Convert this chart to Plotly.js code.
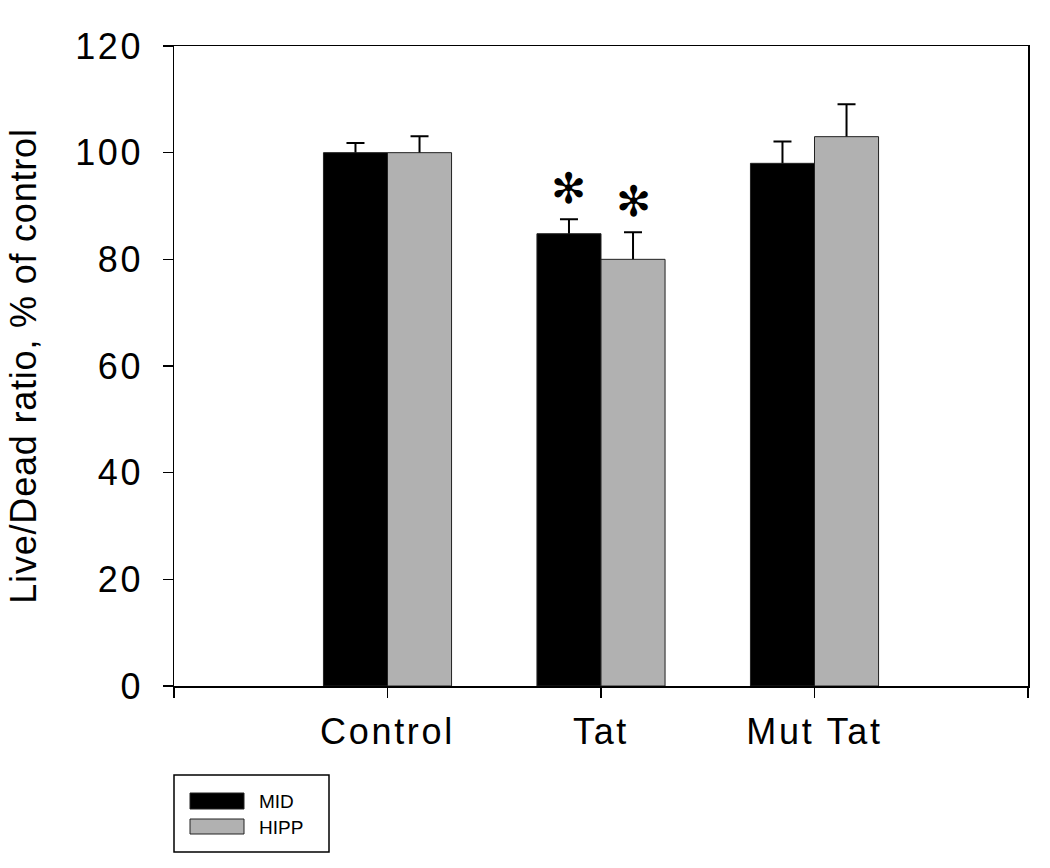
<!DOCTYPE html>
<html><head><meta charset="utf-8">
<script src="https://cdn.plot.ly/plotly-3.0.1.min.js"></script>
<style>
html,body{margin:0;padding:0;background:#fff}
.xtick text, .ytick text {letter-spacing: 2.7px;}
.ytitle {letter-spacing: 0.8px;}
</style>
</head><body>
<div id="chart" style="width:1050px;height:868px"></div>
<script>
const categories = ['Control', 'Tat', 'Mut Tat'];
const midValues = [100, 84.8, 98];
const midErr = [1.8, 2.7, 4.1];
const hippValues = [100, 80, 103];
const hippErr = [3.1, 5.1, 6.1];
const seriesNames = ['MID', 'HIPP'];
const seriesColors = ['#000000', '#b1b1b1'];
const starFlags = [false, true, false];

const xIdx = categories.map((c, i) => i);
const font = 'Liberation Sans, Arial, sans-serif';
const barW = 0.3;

function errCarrier(vals, errs, off) {
  return {type: 'bar', x: xIdx, y: vals, width: barW, offset: off, showlegend: false,
    marker: {color: 'rgba(0,0,0,0)', line: {width: 0}},
    error_y: {type: 'data', array: errs, symmetric: true, color: '#000', thickness: 2, width: 9}};
}
function barTrace(name, vals, color, off) {
  return {type: 'bar', name: name, x: xIdx, y: vals, width: barW, offset: off,
    marker: {color: color, line: {color: '#222', width: 1}}};
}
const traces = [
  errCarrier(midValues, midErr, -barW),
  barTrace(seriesNames[0], midValues, seriesColors[0], -barW),
  errCarrier(hippValues, hippErr, 0),
  barTrace(seriesNames[1], hippValues, seriesColors[1], 0)
];

const annotations = [];
starFlags.forEach((f, i) => {
  if (!f) return;
  annotations.push({x: i - barW / 2, y: midValues[i] + midErr[i], xref: 'x', yref: 'y', text: '✻',
    showarrow: false, yanchor: 'bottom', yshift: 4, font: {family: 'DejaVu Sans', size: 42, color: '#000'}});
  annotations.push({x: i + barW / 2, y: hippValues[i] + hippErr[i], xref: 'x', yref: 'y', text: '✻',
    showarrow: false, yanchor: 'bottom', yshift: 4, font: {family: 'DejaVu Sans', size: 42, color: '#000'}});
});
const px = v => (v - 174) / 854;
const py = v => (686 - v) / 640;
// custom legend
annotations.push({xref: 'paper', yref: 'paper', x: px(257), y: py(801),
  xanchor: 'left', yanchor: 'middle', text: seriesNames[0], showarrow: false,
  font: {family: font, size: 19, color: '#000'}});
annotations.push({xref: 'paper', yref: 'paper', x: px(257), y: py(827),
  xanchor: 'left', yanchor: 'middle', text: seriesNames[1], showarrow: false,
  font: {family: font, size: 19, color: '#000'}});

const shapes = [
  {type: 'rect', xref: 'paper', yref: 'paper', x0: px(174), x1: px(329), y0: py(775), y1: py(852),
   line: {color: '#000', width: 1.5}, fillcolor: '#fff'},
  {type: 'rect', xref: 'paper', yref: 'paper', x0: px(190), x1: px(244), y0: py(793), y1: py(809),
   line: {color: '#222', width: 1}, fillcolor: seriesColors[0]},
  {type: 'rect', xref: 'paper', yref: 'paper', x0: px(190), x1: px(244), y0: py(819), y1: py(834),
   line: {color: '#222', width: 1}, fillcolor: seriesColors[1]}
];

const layout = {
  width: 1050, height: 868,
  margin: {l: 174, r: 22, t: 46, b: 182},
  paper_bgcolor: '#fff', plot_bgcolor: '#fff',
  showlegend: false,
  barmode: 'overlay',
  font: {family: font, color: '#000'},
  xaxis: {range: [-1, 3], tickmode: 'array', tickvals: [-1, 0, 1, 2, 3],
          ticktext: [''].concat(categories, ['']),
          ticks: 'outside', ticklen: 10, tickwidth: 1.5, tickcolor: '#000',
          showline: true, linecolor: '#000', linewidth: 1.5, mirror: true,
          showgrid: false, zeroline: false, ticklabelstandoff: 3,
          tickfont: {family: font, size: 36, color: '#000'}},
  yaxis: {range: [0, 120], tickvals: [0, 20, 40, 60, 80, 100, 120],
          ticks: 'outside', ticklen: 10, tickwidth: 1.5, tickcolor: '#000',
          showline: true, linecolor: '#000', linewidth: 1.5, mirror: true,
          showgrid: false, zeroline: false, ticklabelstandoff: 12,
          tickfont: {family: font, size: 36, color: '#000'},
          title: {text: 'Live/Dead ratio, % of control', font: {family: font, size: 36, color: '#000'}, standoff: 27}},
  annotations: annotations,
  shapes: shapes
};

Plotly.newPlot('chart', traces, layout, {displayModeBar: false, staticPlot: true});
</script>
</body></html>
